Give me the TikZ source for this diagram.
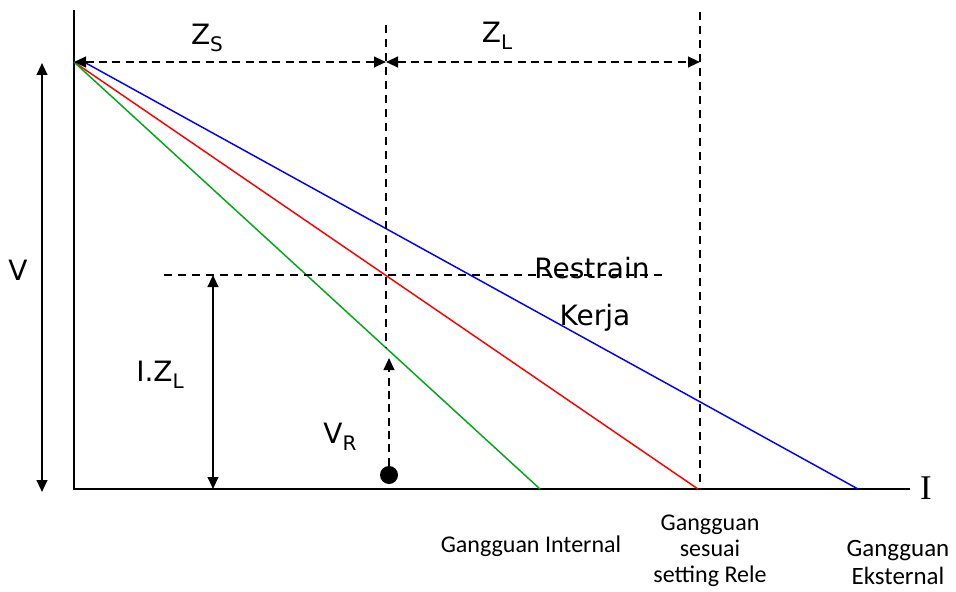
\documentclass[tikz,border=0pt]{standalone}
\usepackage{fontspec}
\setmainfont{DejaVu Sans}
\newfontfamily\capfont{Carlito}
\newfontfamily\axisfont{Liberation Serif}
\usetikzlibrary{arrows.meta}
\newcommand{\lowsub}[1]{\raisebox{-0.45ex}{\fontsize{15}{15}\selectfont #1}}
\tikzset{
    axis line/.style={line width=1.5pt, black},
    dim line/.style={line width=1.5pt, dash pattern=on 6pt off 4pt,
        {Triangle[length=9pt,width=8pt]}-{Triangle[length=9pt,width=8pt]}},
    guide line/.style={line width=1.1pt, dash pattern=on 6pt off 4.5pt},
    span arrow/.style={line width=1.5pt,
        {Triangle[length=9pt,width=8pt]}-{Triangle[length=9pt,width=8pt]}},
    fault line/.style={line width=1.1pt},
    big label/.style={font=\fontsize{21}{25}\selectfont, inner sep=0pt},
    small label/.style={font=\capfont\fontsize{18}{19.5}\selectfont, align=center, inner sep=0pt}
}

\begin{document}
\begin{tikzpicture}[x=0.75pt, y=-0.75pt]
    \useasboundingbox (0,0) rectangle (956,592);
    % points of the chart
    \coordinate (O) at (74,62);
    \coordinate (Ytop) at (74,10);
    \coordinate (B) at (74,489);
    \coordinate (Xend) at (910,489);
    \coordinate (Mtop) at (386,25);
    \coordinate (Mmid) at (386,62);
    \coordinate (Mgreen) at (386,348);
    \coordinate (Rtop) at (700,12);
    \coordinate (Rmid) at (700,62);
    \coordinate (Rbot) at (700,489);
    \coordinate (Hleft) at (164,275);
    \coordinate (Hright) at (662,275);
    \coordinate (Ztop) at (213,275);
    \coordinate (Zbot) at (213,489);
    \coordinate (Vtop) at (42,63);
    \coordinate (Vbot) at (42,492);
    \coordinate (VRtip) at (389,358);
    \coordinate (Bstart) at (84,62);
    \coordinate (Bend) at (858,489);
    \coordinate (Rend) at (698,489);
    \coordinate (Gend) at (540,489);

    % axes
    \draw[axis line] (Ytop) -- (B) -- (Xend);

    % fault lines
    \draw[fault line, blue] (Bstart) -- (Bend);
    \draw[fault line, red] (O) -- (Rend);
    \draw[fault line, black!30!green!80!teal] (O) -- (Gend);

    % guides
    \draw[guide line] (Mtop) -- (Mgreen);
    \draw[guide line] (Rtop) -- (Rbot);
    \draw[guide line] (Hleft) -- (Hright);

    % dimensions
    \draw[dim line] (O) -- (Mmid);
    \draw[dim line] (Mmid) -- (Rmid);
    \draw[span arrow] (Ztop) -- (Zbot);
    \draw[span arrow] (Vtop) -- (Vbot);
    \node[circle, fill, inner sep=0pt, minimum size=13.5pt] (dot) at (389,475) {};
    \draw[line width=1.5pt, dash pattern=on 6pt off 4pt, -{Triangle[length=9pt,width=8pt]}] (dot) -- (VRtip);

    % labels
    \node[big label] (zs) at (207,38) {Z\lowsub{S}};
    \node[big label] (zl) at (497,36) {Z\lowsub{L}};
    \node[big label] (v) at (18,270) {V};
    \node[big label] (izl) at (160,375) {I.Z\lowsub{L}};
    \node[big label] (vr) at (340,437) {V\lowsub{R}};
    \node[big label] (restrain) at (592,268) {Restrain};
    \node[big label] (kerja) at (595,318) {Kerja};
    \node[font=\axisfont\fontsize{26}{26}\selectfont, inner sep=0pt] (i) at (926,488) {I};
    \node[small label] (internal) at (531,546) {Gangguan Internal};
    \node[small label] (sesuai) at (710,551) {Gangguan\\sesuai\\setting Rele};
    \node[small label, font=\capfont\fontsize{18.7}{21}\selectfont] (eksternal) at (898,562) {Gangguan\\Eksternal};
\end{tikzpicture}
\end{document}
